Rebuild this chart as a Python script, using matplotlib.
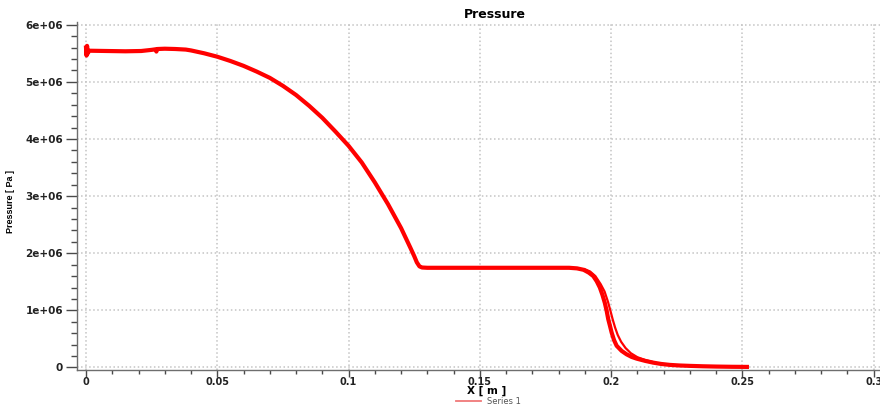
import numpy as np
import matplotlib.pyplot as plt
from matplotlib.ticker import MultipleLocator
from matplotlib.lines import Line2D

# Pressure along X (x in m, pressure in Pa)
x_main = [0.0, 0.0002, 0.0004, 0.0007, 0.0012, 0.008, 0.015, 0.021, 0.025, 0.0265,
          0.0268, 0.0272, 0.030, 0.034, 0.038, 0.040, 0.045, 0.050, 0.055, 0.060,
          0.065, 0.070, 0.075, 0.080, 0.085, 0.090, 0.095, 0.100, 0.105, 0.110,
          0.115, 0.120, 0.1235, 0.125, 0.126, 0.127, 0.128, 0.130, 0.140, 0.160,
          0.184, 0.187, 0.1895, 0.1915, 0.1932, 0.1945, 0.1957, 0.1967, 0.1976, 0.1983,
          0.1989, 0.1996, 0.2002, 0.2011, 0.2021, 0.2040, 0.2059, 0.2078, 0.2097, 0.213,
          0.216, 0.219, 0.2224, 0.226, 0.230, 0.235, 0.240, 0.246, 0.2517]
p_main = [5.60e6, 5.46e6, 5.63e6, 5.50e6, 5.545e6, 5.54e6, 5.535e6, 5.54e6, 5.56e6, 5.57e6,
          5.53e6, 5.575e6, 5.58e6, 5.575e6, 5.565e6, 5.55e6, 5.50e6, 5.44e6, 5.365e6, 5.28e6,
          5.18e6, 5.07e6, 4.93e6, 4.77e6, 4.58e6, 4.37e6, 4.13e6, 3.88e6, 3.59e6, 3.24e6,
          2.86e6, 2.44e6, 2.10e6, 1.95e6, 1.84e6, 1.77e6, 1.75e6, 1.745e6, 1.745e6, 1.745e6,
          1.745e6, 1.735e6, 1.71e6, 1.66e6, 1.60e6, 1.51e6, 1.40e6, 1.27e6, 1.13e6, 0.99e6,
          0.845e6, 0.72e6, 0.61e6, 0.48e6, 0.38e6, 0.29e6, 0.23e6, 0.185e6, 0.155e6, 0.115e6,
          0.085e6, 0.062e6, 0.045e6, 0.035e6, 0.028e6, 0.021e6, 0.016e6, 0.012e6, 0.01e6]

# second trace of the bundle that lags in the drop
x_lag = [0.190, 0.192, 0.194, 0.196, 0.1975, 0.1988, 0.1998, 0.2006, 0.2015, 0.2025,
         0.2038, 0.2055, 0.2075, 0.210, 0.213, 0.216]
p_lag = [1.72e6, 1.68e6, 1.60e6, 1.46e6, 1.33e6, 1.15e6, 0.98e6, 0.84e6, 0.70e6, 0.57e6,
         0.45e6, 0.34e6, 0.25e6, 0.18e6, 0.13e6, 0.095e6]

fig = plt.figure(figsize=(8.8, 4.05), dpi=100)
ax = fig.add_axes([0.0875, 0.087, 0.9125, 0.859])

ax.plot(x_main, p_main, color='#ff0000', lw=3.0, solid_joinstyle='round')
ax.plot(x_lag, p_lag, color='#ff0000', lw=1.6, solid_joinstyle='round')

ax.set_xlim(-0.00343, 0.3024)
ax.set_ylim(-0.04e6, 6.05e6)

ax.xaxis.set_minor_locator(MultipleLocator(0.01))
ax.yaxis.set_minor_locator(MultipleLocator(2e5))
ax.set_xticks([0, 0.05, 0.1, 0.15, 0.2, 0.25, 0.3])
ax.set_xticklabels(['0', '0.05', '0.1', '0.15', '0.2', '0.25', '0.3'])
ax.set_yticks([0, 1e6, 2e6, 3e6, 4e6, 5e6, 6e6])
ax.set_yticklabels(['0', '1e+06', '2e+06', '3e+06', '4e+06', '5e+06', '6e+06'])

ax.grid(True, which='major', color='#c4c4c4', linestyle=':', lw=1.1)

for s in ['top', 'right']:
    ax.spines[s].set_visible(False)
for s in ['left', 'bottom']:
    ax.spines[s].set_color('#6e6e6e')
    ax.spines[s].set_linewidth(1.0)

ax.tick_params(which='major', length=8, color='#4a4a4a', width=1.0, labelsize=7.5,
               labelcolor='#222222', pad=2)
ax.tick_params(axis='x', which='major', length=5, pad=0.5, labelsize=7)
ax.tick_params(which='minor', length=4, color='#4a4a4a', width=1.0)
ax.tick_params(axis='x', which='minor', length=3)
for lab in ax.get_xticklabels() + ax.get_yticklabels():
    lab.set_fontweight('bold')

ax.set_title('Pressure', fontsize=9, fontweight='bold', pad=3, x=0.52)
ax.set_xlabel('X [ m ]', fontsize=7.5, fontweight='bold', labelpad=0)
ax.xaxis.set_label_coords(0.51, -0.047)
ax.set_ylabel('Pressure [ Pa ]', fontsize=6.5, fontweight='bold',
              family=['Liberation Sans Narrow', 'Liberation Sans', 'DejaVu Sans'])
ax.yaxis.set_label_coords(-0.077, 0.483)

handle = Line2D([], [], color='#f07878', lw=1.3)
fig.legend([handle], ['Series 1'], loc='lower center', bbox_to_anchor=(0.555, -0.02),
           frameon=False, fontsize=6, handlelength=3.0, labelcolor='#555555')

fig.savefig('out.png', dpi=100)
